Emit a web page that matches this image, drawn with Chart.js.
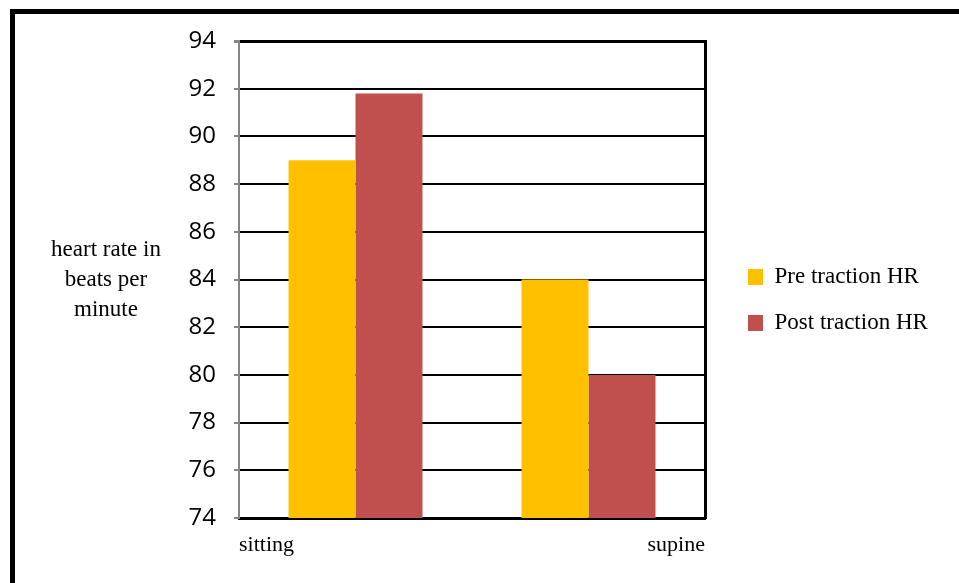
<!DOCTYPE html>
<html>
<head>
<meta charset="utf-8">
<script src="https://cdn.jsdelivr.net/npm/chart.js@4/dist/chart.umd.min.js"></script>
<style>
  html, body { margin: 0; padding: 0; background: #fff; }
  #wrap { position: relative; width: 959px; height: 583px; overflow: hidden; }
  #frame { position: absolute; left: 10px; top: 9px; width: 2000px; height: 2000px;
           border-left: 5px solid #000; border-top: 5px solid #000; pointer-events: none; }
</style>
</head>
<body>
<div id="wrap">
  <canvas id="hrChart" width="959" height="583"></canvas>
  <div id="frame"></div>
</div>
<script>
// Datos
const categories = ['sitting', 'supine'];
const seriesNames = ['Pre traction HR', 'Post traction HR'];
const preValues = [89, 84];
const postValues = [91.8, 80];
const yTicks = [74, 76, 78, 80, 82, 84, 86, 88, 90, 92, 94];
const yTitleLines = ['heart rate in', 'beats per', 'minute'];

const serif = '"Liberation Serif", "Times New Roman", serif';
const legendFontSize = 23;

// medir el texto de la leyenda para dejar el área del gráfico en su sitio
const m = document.createElement('canvas').getContext('2d');
m.font = legendFontSize + 'px ' + serif;
const textW = Math.max(...seriesNames.map(n => m.measureText(n).width));
const legendPad = 23;
const legendLeft = 725;
const legendWidth = legendPad + 15 + legendFontSize / 2 + textW + 10;
const padRight = Math.max(0, 959 - legendLeft - legendWidth);

// título del eje Y en horizontal
const yTitlePlugin = {
    id: 'yTitle',
    afterDraw(chart) {
        const { ctx, chartArea } = chart;
        const cy = (chartArea.top + chartArea.bottom) / 2;
        ctx.save();
        ctx.font = '23px ' + serif;
        ctx.fillStyle = '#000';
        ctx.textAlign = 'center';
        ctx.textBaseline = 'middle';
        yTitleLines.forEach((line, i) => {
            ctx.fillText(line, chartArea.left - 133, cy + (i - 1) * 30);
        });
        ctx.restore();
    }
};

new Chart(document.getElementById('hrChart'), {
    type: 'bar',
    data: {
        labels: categories,
        datasets: [
            {
                label: seriesNames[0],
                data: preValues,
                backgroundColor: '#FFC000',
                borderWidth: 0,
                categoryPercentage: 0.575,
                barPercentage: 1
            },
            {
                label: seriesNames[1],
                data: postValues,
                backgroundColor: '#C0504D',
                borderWidth: 0,
                categoryPercentage: 0.575,
                barPercentage: 1
            }
        ]
    },
    options: {
        responsive: false,
        animation: false,
        layout: { padding: { left: 0, top: 41, right: padRight, bottom: 24 } },
        plugins: {
            legend: {
                position: 'right',
                align: 'center',
                maxWidth: Math.ceil(legendWidth),
                labels: {
                    boxWidth: 15,
                    boxHeight: 16,
                    padding: legendPad,
                    color: '#000',
                    font: { family: serif, size: legendFontSize }
                }
            },
            tooltip: { enabled: false }
        },
        scales: {
            x: {
                position: 'bottom',
                grid: { display: false },
                ticks: { display: false },
                border: { display: true, color: '#000', width: 3 },
                afterFit: s => { s.height = 0; }
            },
            x2: {
                type: 'category',
                labels: categories,
                position: 'bottom',
                offset: false,
                grid: { display: false },
                border: { display: false },
                ticks: {
                    align: 'inner',
                    padding: 6,
                    maxRotation: 0,
                    color: '#000',
                    font: { family: serif, size: 22 }
                },
                afterFit: s => { s.height = 41; }
            },
            y: {
                min: yTicks[0],
                max: yTicks[yTicks.length - 1],
                afterBuildTicks: s => { s.ticks = yTicks.map(v => ({ value: v })); },
                grid: {
                    color: '#000',
                    lineWidth: c => (c.tick && c.tick.value === yTicks[yTicks.length - 1]) ? 3 : 2,
                    tickColor: '#868686',
                    tickLength: 5
                },
                border: { display: true, color: '#868686', width: 2 },
                ticks: {
                    padding: 18,
                    color: '#000',
                    font: { family: '"Open Sans", sans-serif', size: 24 }
                },
                afterFit: s => { s.width = 239; }
            },
            y2: {
                type: 'linear',
                position: 'right',
                display: true,
                grid: { display: false },
                ticks: { display: false },
                border: { display: true, color: '#000', width: 3 },
                afterFit: s => { s.width = 20; }
            }
        }
    },
    plugins: [yTitlePlugin]
});
</script>
</body>
</html>
